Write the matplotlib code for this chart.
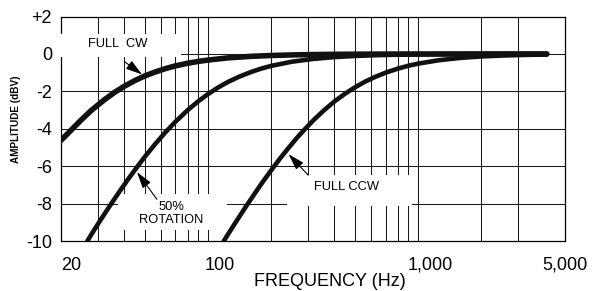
import matplotlib
matplotlib.use("Agg")
import matplotlib.pyplot as plt
import matplotlib.transforms as mtransforms
from matplotlib.patches import Rectangle

plt.rcParams['font.family'] = ['Liberation Sans', 'DejaVu Sans']
plt.rcParams['axes.unicode_minus'] = False

# Response curves (frequency in Hz, amplitude in dBV)
cw_f = [20, 22, 25, 28, 32, 36, 40, 45, 50, 56, 63, 70, 80, 90, 100, 125, 160,
        200, 250, 315, 400, 500, 630, 800, 1000, 2000, 4100]
cw_db = [-4.62, -4.15, -3.52, -3.0, -2.47, -2.05, -1.73, -1.42, -1.18, -0.97,
         -0.78, -0.64, -0.5, -0.4, -0.33, -0.21, -0.13, -0.084, -0.054, -0.034,
         -0.021, -0.014, -0.009, -0.005, -0.003, -0.001, 0]

rot_f = [26.7, 28, 30, 32, 35, 38, 42, 46, 50, 56, 63, 70, 80, 90, 100, 112,
         125, 140, 160, 180, 200, 250, 315, 400, 500, 630, 800, 1000, 1400,
         2000, 4100]
rot_db = [-10, -9.62, -9.09, -8.6, -7.94, -7.35, -6.65, -6.05, -5.51, -4.83,
          -4.17, -3.63, -3.01, -2.53, -2.15, -1.79, -1.49, -1.23, -0.97, -0.78,
          -0.64, -0.42, -0.27, -0.17, -0.11, -0.069, -0.043, -0.028, -0.014,
          -0.007, -0.002]

ccw_f = [119, 125, 135, 150, 165, 180, 200, 220, 240, 265, 290, 320, 357, 400,
         450, 500, 560, 630, 710, 800, 900, 1000, 1250, 1600, 2000, 2500, 3200,
         4100]
ccw_db = [-10, -9.62, -9.03, -8.24, -7.55, -6.93, -6.22, -5.6, -5.07, -4.49,
          -4.01, -3.51, -3.01, -2.54, -2.12, -1.79, -1.48, -1.21, -0.98, -0.79,
          -0.63, -0.52, -0.34, -0.21, -0.136, -0.088, -0.054, -0.033]

# axis ticks and grid
x_ticks = [20, 100, 1000, 5000]
x_tick_labels = ['20', '100', '1,000', '5,000']
y_ticks = [-10, -8, -6, -4, -2, 0, 2]
y_tick_labels = ['-10', '-8', '-6', '-4', '-2', '0', '+2']
v_grid = [30, 40, 50, 60, 70, 80, 90, 100, 200, 300, 400, 500, 600, 700,
          800, 900, 1000, 2000, 3000]
h_grid = [-8, -6, -4, -2, 0]

fig = plt.figure(figsize=(5.92, 2.91), dpi=100)
ax = fig.add_axes([61 / 592, 50 / 291, 504 / 592, 224.5 / 291])

ax.set_xscale('log')
ax.set_xlim(20, 5000)
ax.set_ylim(-10, 2)

for f in v_grid:
    ax.axvline(f, color='#1a1a1a', lw=0.75, zorder=1)
for d in h_grid:
    ax.axhline(d, color='#1a1a1a', lw=0.75, zorder=1)

for s in ax.spines.values():
    s.set_linewidth(0.9)
    s.set_color('black')

ax.set_xticks(x_ticks)
ax.set_xticklabels(x_tick_labels)
ax.xaxis.set_minor_locator(matplotlib.ticker.NullLocator())
ax.set_yticks(y_ticks)
ax.set_yticklabels(y_tick_labels)
ax.tick_params(axis='both', length=0, labelsize=13)
ax.tick_params(axis='x', pad=11.5)
ax.tick_params(axis='y', pad=6.5)

# nudge x tick labels like the original
shift = {'20': 0, '100': 12, '1,000': 12, '5,000': 0}
for lbl in ax.get_xticklabels():
    t = lbl.get_text()
    if t == '20':
        lbl.set_horizontalalignment('left')
    lbl.set_transform(lbl.get_transform() +
                      mtransforms.ScaledTranslation(shift[t] / 100, 0, fig.dpi_scale_trans))

# white label boxes that hide the grid
boxes = [((18.7, -0.16), 74.6, 1.07), ((37.3, -9.4), 123, -7.5), ((238, -8.12), 940, -6.45)]
for (x0, y0), x1, y1 in boxes:
    ax.add_patch(Rectangle((x0, y0), x1 - x0, y1 - y0, facecolor='white',
                           edgecolor='none', zorder=3, clip_on=False))

ax.plot(cw_f, cw_db, color='#111111', lw=4.0, solid_capstyle='round', zorder=5)
ax.plot(rot_f, rot_db, color='#111111', lw=3.3, solid_capstyle='round', zorder=5)
ax.plot(ccw_f, ccw_db, color='#111111', lw=3.3, solid_capstyle='round', zorder=5)

arrow = dict(arrowstyle='-|>,head_length=1.0,head_width=0.3', color='black',
             lw=0.8, shrinkA=0, shrinkB=0)
ax.annotate('', xy=(48.6, -1.1), xytext=(40.3, -0.43), arrowprops=arrow, zorder=6)
ax.annotate('', xy=(46.0, -6.32), xytext=(57.2, -7.77), arrowprops=arrow, zorder=6)
ax.annotate('', xy=(242, -5.36), xytext=(300, -6.48), arrowprops=arrow, zorder=6)

ax.text(37.4, 0.54, 'FULL  CW', fontsize=9.3, ha='center', va='center', zorder=6)
ax.text(66.8, -8.52, '50%\nROTATION', fontsize=9.3, ha='center', va='center',
        linespacing=1.15, zorder=6)
ax.text(457, -7.1, 'FULL CCW', fontsize=9.3, ha='center', va='center', zorder=6)

fig.text(329.5 / 592, 1 - 286 / 291, 'FREQUENCY (Hz)', fontsize=13,
         ha='center', va='baseline')
fig.text(16 / 592, 1 - 119 / 291, 'AMPLITUDE (dBV)', fontsize=7.2,
         fontweight='bold', rotation=90, ha='center', va='center')

fig.savefig('out.png', dpi=100)
